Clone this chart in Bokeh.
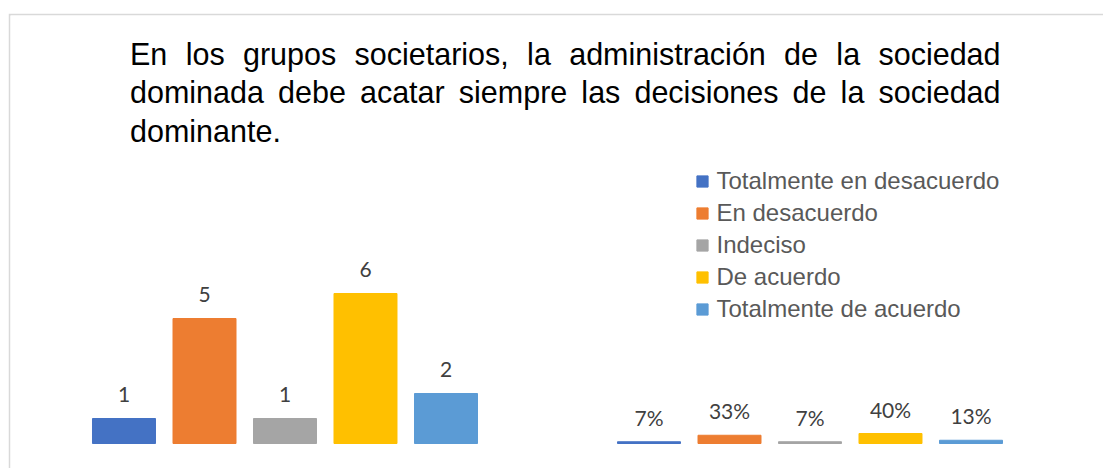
from bokeh.plotting import figure
from bokeh.models import Range1d, ColumnDataSource, Label, Legend, LegendItem
from bokeh.transform import dodge
from bokeh.embed import file_html
from bokeh.resources import INLINE
from bokeh.core.properties import value

# ---------------- data ----------------
categories = ["Totalmente en desacuerdo", "En desacuerdo", "Indeciso",
              "De acuerdo", "Totalmente de acuerdo"]
groups = [0, 1]                      # 0: frecuencia, 1: porcentaje
counts = [1, 5, 1, 6, 2]
percents = [7, 33, 7, 40, 13]
count_labels = ["1", "5", "1", "6", "2"]
percent_labels = ["7%", "33%", "7%", "40%", "13%"]
colors = ["#4472C4", "#ED7D31", "#A5A5A5", "#FFC000", "#5B9BD5"]
title_lines = [
    "En los grupos societarios, la administración de la sociedad",
    "dominada debe acatar siempre las decisiones de la sociedad",
    "dominante.",
]

# ---------------- figure ----------------
FRAME_BOTTOM = 468  # page y of frame bottom
p = figure(width=1095, height=455,
           x_range=Range1d(-0.52286, 1.55905), y_range=Range1d(-1.0, 17.12),
           output_backend="svg", toolbar_location=None,
           x_axis_location=None, y_axis_location=None,
           min_border_left=2, min_border_top=2, min_border_right=0, min_border_bottom=0,
           border_fill_color="#D9D9D9", background_fill_color="white",
           outline_line_color=None)
p.margin = (13, 0, 0, 8)
p.grid.visible = False

offsets = [-0.30667, -0.15333, 0.0, 0.15333, 0.30667]
legend_items = []
for i in range(5):
    src = ColumnDataSource(dict(
        x=groups,
        top=[counts[i], percents[i] / 100.0],
        label=[count_labels[i], percent_labels[i]],
    ))
    r = p.vbar(x=dodge("x", offsets[i], range=p.x_range), top="top", bottom=0,
               width=0.12, source=src, fill_color=colors[i], line_color=colors[i])
    p.text(x=dodge("x", offsets[i], range=p.x_range), y="top", text="label", source=src,
           text_align="center", text_baseline="alphabetic", y_offset=-24.5,
           text_font=value("Lato"), text_font_size="21px", text_color="#404040")
    legend_items.append(LegendItem(label=categories[i], renderers=[r]))

legend = Legend(items=legend_items, location=(684.5, 145),
                glyph_width=14, glyph_height=14, label_standoff=8,
                label_text_font="Liberation Sans", label_text_font_size="24px",
                label_text_color="#595959", label_height=20, spacing=4,
                padding=0, margin=0, border_line_color=None,
                background_fill_alpha=0)
p.add_layout(legend)

# ---------------- title (justified) ----------------
W = {'E': 667, 'n': 556, 'l': 222, 'o': 556, 's': 500, 'g': 556, 'r': 333, 'u': 556,
     'p': 556, 'c': 500, 'i': 222, 'e': 556, 't': 278, 'a': 556, ',': 278, 'd': 556,
     'm': 833, 'ó': 556, 'b': 556, '.': 278, ' ': 278}
fs = 30.5
left_px, right_px = 129.5 - 10, 1000 - 10   # frame coordinates
baselines = [FRAME_BOTTOM - 53, FRAME_BOTTOM - 91.5, FRAME_BOTTOM - 130]


def wwidth(w):
    return sum(W.get(ch, 556) for ch in w) / 1000.0 * fs


for li, line in enumerate(title_lines):
    words = line.split(" ")
    if li < len(title_lines) - 1 and len(words) > 1:
        total = sum(wwidth(w) for w in words)
        gap = (right_px - left_px - total) / (len(words) - 1)
        x = left_px
        for w in words:
            p.add_layout(Label(x=x, y=baselines[li], x_units="screen", y_units="screen",
                               text=w, text_font="Liberation Sans",
                               text_font_size=f"{fs}px", text_color="#000000",
                               text_baseline="alphabetic", text_align="left"))
            x += wwidth(w) + gap
    else:
        p.add_layout(Label(x=left_px, y=baselines[li], x_units="screen", y_units="screen",
                           text=line, text_font="Liberation Sans",
                           text_font_size=f"{fs}px", text_color="#000000",
                           text_baseline="alphabetic", text_align="left"))

open("out.html", "w").write(file_html(p, INLINE))
